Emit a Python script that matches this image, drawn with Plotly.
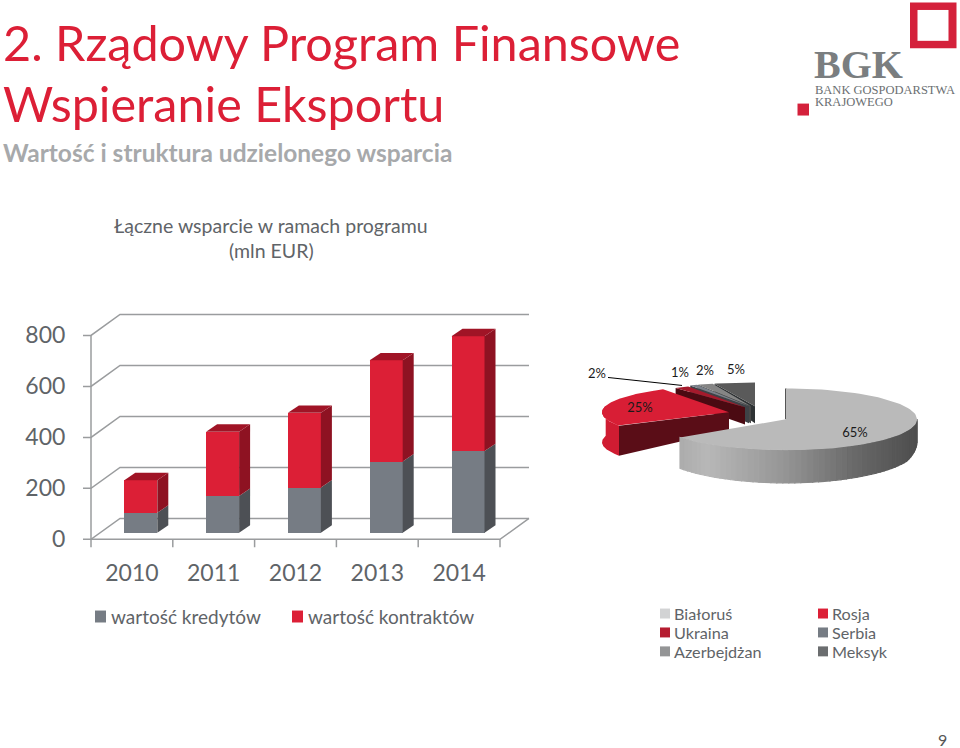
import numpy as np
import plotly.graph_objects as go

# ---- data ----
years = ["2010", "2011", "2012", "2013", "2014"]
kredyty = [78, 144, 177, 279, 320]
kontrakty = [128, 252, 293, 397, 451]
y_ticks = [0, 200, 400, 600, 800]
countries = ["Białoruś", "Rosja", "Ukraina", "Serbia", "Azerbejdżan", "Meksyk"]
shares = [65, 25, 2, 1, 2, 5]

# ---- style ----
W, H = 960, 748
RED, GREY = "#DC1F36", "#767C84"
RED_SIDE, RED_TOP = "#8E1222", "#A01426"
GREY_SIDE = "#4D5055"
TXT = "#5F6468"
GRID = "#9A9C9E"
FONT = "Lato"
SERIF = "Liberation Serif"


def px(x):
    return x / W


def py(y):
    return 1 - y / H


# pixel geometry of the 3D-looking column chart
X0, CAT_W = 91.0, 81.8
Y0, U = 541.5, 0.2559          # pixel of value 0, pixels per unit
PAD_L, PAD_B = 12, 10
DEPTH_X, DEPTH_Y = 29, 21
SHIFT_X, SHIFT_Y = 8.9, 6.7
BAR_W = 33
BAR_DX, BAR_DY = 11.0, 7.5
PLOT_R, PLOT_T = 532, 312

d_bar_x = BAR_DX / CAT_W
d_bar_y = BAR_DY / U
d_wall_x = DEPTH_X / CAT_W
d_wall_y = DEPTH_Y / U

x_rng = [-0.5 - PAD_L / CAT_W, -0.5 + (PLOT_R - X0) / CAT_W]
y_rng = [-PAD_B / U, (Y0 - PLOT_T) / U]
dom_x = [px(X0 - PAD_L), px(PLOT_R)]
dom_y = [py(Y0 + PAD_B), py(PLOT_T)]

fig = go.Figure()

# frame, wall grid and ticks
n = len(years)
xs, ys = [], []
for t in y_ticks:
    xs += [-0.5 - 8 / CAT_W, -0.5, -0.5 + d_wall_x, -0.5 + d_wall_x + n, None]
    ys += [t, t, t + d_wall_y, t + d_wall_y, None]
xs += [-0.5, -0.5, None, -0.5, n - 0.5, n - 0.5 + d_wall_x, None]
ys += [0, y_ticks[-1], None, 0, 0, d_wall_y, None]
for i in range(n + 1):
    xs += [i - 0.5, i - 0.5, None]
    ys += [0, -8 / U, None]
fig.add_trace(go.Scatter(x=xs, y=ys, mode="lines", line=dict(color=GRID, width=1.5),
                         hoverinfo="skip", showlegend=False, xaxis="x", yaxis="y"))

# bars: second axis pair is the first one moved into the depth of the floor
sx = SHIFT_X / CAT_W
sy = SHIFT_Y / U
idx = list(range(n))
bw = BAR_W / CAT_W
fig.add_trace(go.Bar(x=idx, y=kredyty, name="wartość kredytów", marker=dict(color=GREY, line_width=0),
                     width=bw, xaxis="x2", yaxis="y2", showlegend=False))
fig.add_trace(go.Bar(x=idx, y=kontrakty, name="wartość kontraktów", marker=dict(color=RED, line_width=0),
                     width=bw, xaxis="x2", yaxis="y2", showlegend=False))


def poly(x, y, color, xa="x2", ya="y2", lw=0):
    fig.add_trace(go.Scatter(x=x, y=y, mode="lines", fill="toself", fillcolor=color,
                             line=dict(width=lw, color=color), hoverinfo="skip",
                             showlegend=False, xaxis=xa, yaxis=ya))


for i in idx:
    r = i + bw / 2
    l = i - bw / 2
    a, b = kredyty[i], kredyty[i] + kontrakty[i]
    poly([r, r + d_bar_x, r + d_bar_x, r, r], [0, d_bar_y, a + d_bar_y, a, 0], GREY_SIDE)
    poly([r, r + d_bar_x, r + d_bar_x, r, r], [a, a + d_bar_y, b + d_bar_y, b, a], RED_SIDE)
    poly([l, r, r + d_bar_x, l + d_bar_x, l], [b, b, b + d_bar_y, b + d_bar_y, b], RED_TOP)

# ---- pie with explosion, drawn on its own pixel-scaled axes ----
PIE_X, PIE_Y = [590, 930], [505, 355]
apex = {"Białoruś": (786, 421, 131, 31),
        "Rosja": (729, 414, 127, 27),
        "Ukraina": (745, 409, 118, 24),
        "Serbia": (749, 408, 122, 24),
        "Azerbejdżan": (751, 408, 124, 24),
        "Meksyk": (755, 408, 131, 24)}
# perspective correction of the sweep, in degrees (start, end)
persp = {"Rosja": (6, 4.7)}
top_col = {"Białoruś": "#BABABA", "Rosja": "#D81E35", "Ukraina": "#A51A2C",
           "Serbia": "#7B818A", "Azerbejdżan": "#858585", "Meksyk": "#5A5A5A"}
cut_col = {"Białoruś": "#555555", "Rosja": "#5A0D17", "Ukraina": "#4B0A12",
           "Serbia": "#3E4247", "Azerbejdżan": "#484848", "Meksyk": "#2E3234"}
ROSJA_WALL = 30


def depth(y):
    return np.interp(y, [388, 408, 415, 433, 453], [12, 17, 18, 30, 33])


def pp(x, y, color, lw=0):
    poly(list(x), list(y), color, xa="x3", ya="y3", lw=lw)


def lerp_grey(t):
    v = np.interp(t, [0, 0.12, 0.45, 0.75, 1], [172, 184, 150, 105, 78])
    return f"rgb({int(v)},{int(v)},{int(v)})"


start = 0.0
geoms = []
for c, s in zip(countries, shares):
    a0, a1 = start, start + s * 3.6
    start = a1
    geoms.append((c, a0, a1))

# back slices first, the front big slice last
for c, a0, a1 in [geoms[5], geoms[4], geoms[3], geoms[2], geoms[1], geoms[0]]:
    cx, cy, rx, ry = apex[c]
    p0, p1 = persp.get(c, (0, 0))
    th = np.radians(np.linspace(a0 + p0, a1 + p1, 90))
    ax = cx + rx * np.sin(th)
    ay = cy - ry * np.cos(th)
    if c == "Białoruś":
        # thin dark sliver along the first cut
        pp([cx - 1, ax[0] - 1, ax[0] + 0.5, cx + 1, cx - 1], [cy, ay[0], ay[0], cy, cy], cut_col[c])
        for i in range(len(th) - 1):
            if np.cos(th[i]) > 0.05:
                continue
            t = (ax[i] - ax.min()) / (ax.max() - ax.min())
            pp([ax[i], ax[i + 1], ax[i + 1], ax[i], ax[i]],
               [ay[i], ay[i + 1], ay[i + 1] + depth(ay[i + 1]), ay[i] + depth(ay[i]), ay[i]],
               lerp_grey(t), lw=1.2)
    elif c == "Rosja":
        mask = np.cos(th) < 0.25
        wx = np.r_[ax[mask], ax[mask][::-1]]
        wy = np.r_[ay[mask], (ay[mask] + ROSJA_WALL)[::-1]]
        pp(wx, wy, "#D01C32")
        ex, ey = ax[0], ay[0]
        pp([cx, ex, ex, cx, cx], [cy, ey, ey + ROSJA_WALL, cy + depth(cy), cy], cut_col[c])
    else:
        ex, ey = ax[0], ay[0]
        pp([cx, ex, ex, cx, cx], [cy, ey, ey + depth(ey), cy + depth(cy), cy], cut_col[c])
    # top surface
    pp(np.r_[cx, ax, cx], np.r_[cy, ay, cy], top_col[c])

# pie labels and leader
fig.add_trace(go.Scatter(x=[608, 682], y=[379, 387], mode="lines", line=dict(color="#000", width=1),
                         hoverinfo="skip", showlegend=False, xaxis="x3", yaxis="y3"))
pie_lab = {"Białoruś": (855, 436), "Rosja": (640, 410), "Ukraina": (597, 376),
           "Serbia": (680, 375), "Azerbejdżan": (705, 373), "Meksyk": (736, 372)}
fig.add_trace(go.Scatter(x=[pie_lab[c][0] for c in countries], y=[pie_lab[c][1] for c in countries],
                         mode="text", text=[f"{s}%" for s in shares],
                         textfont=dict(family=FONT, size=13, color="#1A1A1A"), textposition="middle center",
                         hoverinfo="skip", showlegend=False, xaxis="x3", yaxis="y3", cliponaxis=False))

# ---- layout ----
ann, shp = [], []


def text(x, y, s, size, color=TXT, anchor="left", family=FONT, bold=False):
    ann.append(dict(xref="paper", yref="paper", x=px(x), y=py(y), text=f"<b>{s}</b>" if bold else s,
                    showarrow=False, xanchor=anchor, yanchor="middle", align=anchor,
                    font=dict(family=family, size=size, color=color), borderpad=0, borderwidth=0))


def rect(x0, y0, x1, y1, color):
    shp.append(dict(type="rect", xref="paper", yref="paper", x0=px(x0), x1=px(x1), y0=py(y0), y1=py(y1),
                    fillcolor=color, line_width=0, layer="below"))


text(3, 42, "2. Rządowy Program Finansowe", 48.5, "#DC1F36")
text(3, 103, "Wspieranie Eksportu", 48.5, "#DC1F36")
text(3, 153, "Wartość i struktura udzielonego wsparcia", 24.5, "#A7A9AB", bold=True)
text(271, 226, "Łączne wsparcie w ramach programu", 19.5, TXT, "center")
text(271, 252, "(mln EUR)", 19.5, TXT, "center")
text(942, 742, "9", 16, "#555", "center")

# legend of the columns
rect(95, 613, 106, 625, GREY)
text(111, 619, "wartość kredytów", 19, TXT)
rect(292, 613, 303, 625, RED)
text(308, 619, "wartość kontraktów", 19, TXT)

# legend of the pie
leg_col = ["#D2D3D4", "#DC1F36", "#B51C30", "#767C84", "#949596", "#6B6D6F"]
leg_pos = [(660, 616), (818, 616), (660, 635), (818, 635), (660, 654), (818, 654)]
for k, (x_, y_) in enumerate(leg_pos):
    rect(x_, y_ - 5, x_ + 10, y_ + 5, leg_col[k])
    text(x_ + 14, y_, countries[k], 16.2, TXT)

# logo
rect(910, 2.5, 956.5, 48.5, "#D4213B")
rect(917.5, 10, 948.5, 41, "#FFFFFF")
rect(797.5, 104, 809, 116, "#D4213B")
text(814, 65, "BGK", 40, "#7A7E80", family=SERIF, bold=True)
text(815, 90, "BANK GOSPODARSTWA", 12.5, "#6B6F72", family=SERIF)
text(815, 102, "KRAJOWEGO", 12.5, "#6B6F72", family=SERIF)

hidden = dict(visible=False, fixedrange=True)
fig.update_layout(
    width=W, height=H, margin=dict(l=0, r=0, t=0, b=0), autosize=False,
    paper_bgcolor="white", plot_bgcolor="rgba(0,0,0,0)", barmode="stack", showlegend=False,
    annotations=ann, shapes=shp, font=dict(family=FONT, color=TXT),
    xaxis=dict(domain=dom_x, range=x_rng, tickmode="array", tickvals=idx, ticktext=years, showgrid=False,
               zeroline=False, showline=False, ticks="outside", ticklen=3, tickcolor="rgba(0,0,0,0)",
               tickfont=dict(family=FONT, size=23, color=TXT), fixedrange=True),
    yaxis=dict(domain=dom_y, range=y_rng, tickmode="array", tickvals=y_ticks, showgrid=False, zeroline=False,
               showline=False, ticks="outside", ticklen=8, tickcolor="rgba(0,0,0,0)",
               tickfont=dict(family=FONT, size=23, color=TXT), fixedrange=True),
    xaxis2=dict(domain=dom_x, range=[x_rng[0] - sx, x_rng[1] - sx], anchor="y2", overlaying="x", **hidden),
    yaxis2=dict(domain=dom_y, range=[y_rng[0] - sy, y_rng[1] - sy], anchor="x2", overlaying="y", **hidden),
    xaxis3=dict(domain=[px(PIE_X[0]), px(PIE_X[1])], range=PIE_X, anchor="y3", **hidden),
    yaxis3=dict(domain=[py(PIE_Y[0]), py(PIE_Y[1])], range=PIE_Y, anchor="x3", **hidden),
)

fig.write_html("out.html", post_script="document.body.style.margin='0';", config=dict(displayModeBar=False))
